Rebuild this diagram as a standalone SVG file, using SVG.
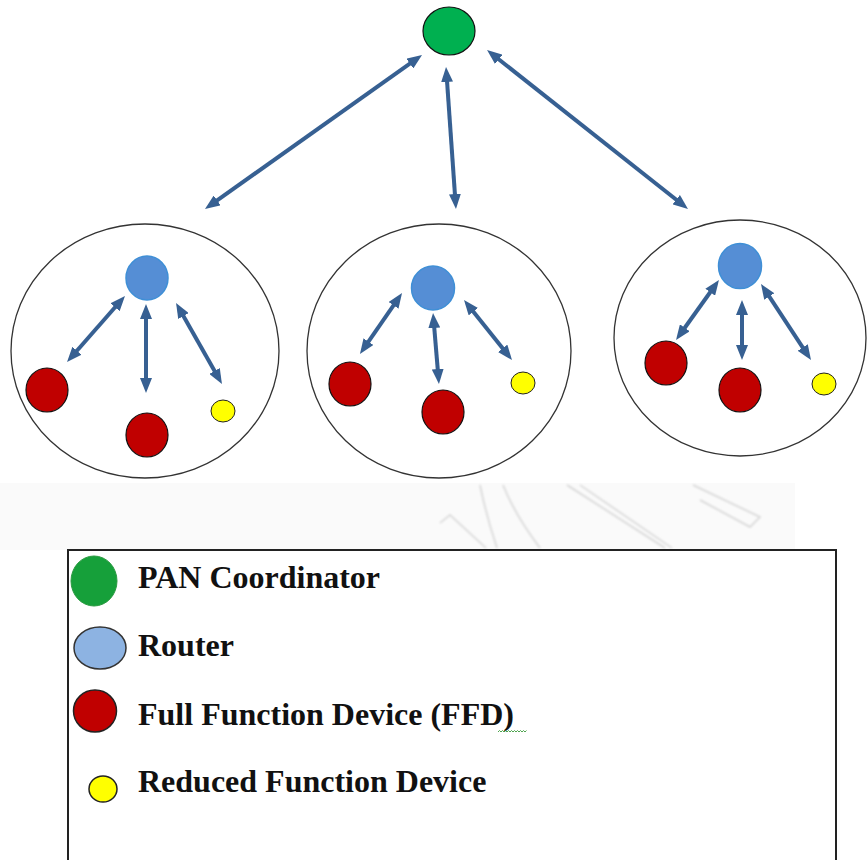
<svg xmlns="http://www.w3.org/2000/svg" width="867" height="860" viewBox="0 0 867 860">
  <defs>
    <marker id="head" viewBox="0 0 15 12" markerWidth="15" markerHeight="12" refX="7" refY="6" markerUnits="userSpaceOnUse" orient="auto-start-reverse">
      <path d="M0,0 L15,6 L0,12 z" fill="#376092"/>
    </marker>
    <filter id="soft" x="-5%" y="-20%" width="110%" height="140%">
      <feGaussianBlur stdDeviation="0.8"/>
    </filter>
  </defs>
  <style>
    .link { stroke: #376092; stroke-width: 4; fill: none; marker-start: url(#head); marker-end: url(#head); }
    .cluster { fill: none; stroke: #333; stroke-width: 1.3; }
    .router { fill: #558ed5; stroke: #3f8fd6; stroke-width: 1.5; }
    .ffd { fill: #c00000; stroke: #111; stroke-width: 1.2; }
    .rfd { fill: #ffff00; stroke: #222; stroke-width: 1; }
    .label { font-family: "Liberation Serif", "Times New Roman", serif; font-weight: bold; font-size: 32px; fill: #111; }
    .mark { fill: none; stroke: #d4d4d4; stroke-width: 1.5; }
  </style>

  <rect width="867" height="860" fill="#ffffff"/>

  <!-- faint background band with watermark strokes -->
  <g id="backdrop">
    <rect x="0" y="483" width="795" height="67" fill="#fafafa"/>
    <g filter="url(#soft)">
      <path class="mark" d="M480,485 Q486,515 497,548"/>
      <path class="mark" d="M503,485 Q515,515 540,548"/>
      <path class="mark" d="M440,523 L450,515 L486,548"/>
      <path class="mark" d="M567,485 L665,548"/>
      <path class="mark" d="M580,485 L672,548"/>
      <path class="mark" d="M693,485 L760,517 L750,527 L700,500"/>
    </g>
  </g>

  <!-- cluster boundaries -->
  <g id="cluster-left"><ellipse class="cluster" cx="145" cy="351" rx="134" ry="127"/></g>
  <g id="cluster-middle"><ellipse class="cluster" cx="439" cy="351" rx="132" ry="127"/></g>
  <g id="cluster-right"><ellipse class="cluster" cx="740" cy="338" rx="126" ry="118"/></g>

  <!-- connectors -->
  <g id="connectors">
    <line class="link" x1="415.5" y1="59.6" x2="211.5" y2="204.4"/>
    <line class="link" x1="446.6" y1="75" x2="455.4" y2="201"/>
    <line class="link" x1="493.3" y1="55" x2="681.7" y2="204"/>

    <line class="link" x1="119.7" y1="302" x2="72.3" y2="356"/>
    <line class="link" x1="146" y1="312" x2="146" y2="385"/>
    <line class="link" x1="180" y1="310" x2="218" y2="377"/>

    <line class="link" x1="397.5" y1="299.6" x2="364.5" y2="347.4"/>
    <line class="link" x1="433.7" y1="321" x2="438.3" y2="376"/>
    <line class="link" x1="469" y1="306.2" x2="507" y2="353.8"/>

    <line class="link" x1="714.3" y1="286.5" x2="680.7" y2="333.5"/>
    <line class="link" x1="742" y1="308" x2="742" y2="352"/>
    <line class="link" x1="765.4" y1="290.7" x2="806.6" y2="353.3"/>
  </g>

  <!-- PAN coordinator -->
  <g id="coordinator"><ellipse cx="449" cy="31" rx="26" ry="24" fill="#00b050" stroke="#111" stroke-width="1.2"/></g>

  <!-- left cluster devices -->
  <g id="router-left"><ellipse class="router" cx="147" cy="278" rx="21" ry="22"/></g>
  <g id="ffd-left-1"><ellipse class="ffd" cx="47" cy="390" rx="21" ry="22"/></g>
  <g id="ffd-left-2"><ellipse class="ffd" cx="147" cy="435" rx="21" ry="22"/></g>
  <g id="rfd-left"><ellipse class="rfd" cx="223" cy="411" rx="12" ry="11"/></g>

  <!-- middle cluster devices -->
  <g id="router-middle"><ellipse class="router" cx="433" cy="288" rx="21.5" ry="22"/></g>
  <g id="ffd-middle-1"><ellipse class="ffd" cx="350" cy="384" rx="21" ry="22"/></g>
  <g id="ffd-middle-2"><ellipse class="ffd" cx="443" cy="412" rx="21" ry="22"/></g>
  <g id="rfd-middle"><ellipse class="rfd" cx="523" cy="383" rx="12" ry="11"/></g>

  <!-- right cluster devices -->
  <g id="router-right"><ellipse class="router" cx="740" cy="266" rx="21.5" ry="22.5"/></g>
  <g id="ffd-right-1"><ellipse class="ffd" cx="666" cy="363" rx="21" ry="22"/></g>
  <g id="ffd-right-2"><ellipse class="ffd" cx="740" cy="390" rx="21" ry="22"/></g>
  <g id="rfd-right"><ellipse class="rfd" cx="824" cy="384" rx="12" ry="11"/></g>

  <!-- legend -->
  <g id="legend">
    <rect x="68" y="550" width="768" height="330" fill="#ffffff" stroke="#222" stroke-width="2"/>
    <ellipse cx="94" cy="581" rx="23" ry="25" fill="#16a03a" stroke="#2a9a40" stroke-width="1"/>
    <text class="label" x="138" y="588">PAN Coordinator</text>
    <ellipse cx="100" cy="648" rx="26" ry="21" fill="#8db3e2" stroke="#333" stroke-width="1.5"/>
    <text class="label" x="138" y="656">Router</text>
    <ellipse cx="95" cy="711" rx="21.5" ry="21" fill="#c00000" stroke="#222" stroke-width="1.5"/>
    <text class="label" x="138" y="725">Full Function Device (FFD)</text>
    <path d="M498,732 l1.5,-1.5 l1.5,1.5 l1.5,-1.5 l1.5,1.5 l1.5,-1.5 l1.5,1.5 l1.5,-1.5 l1.5,1.5 l1.5,-1.5 l1.5,1.5 l1.5,-1.5 l1.5,1.5 l1.5,-1.5 l1.5,1.5 l1.5,-1.5 l1.5,1.5 l1.5,-1.5 l1.5,1.5 l1.5,-1.5" fill="none" stroke="#3a9a3a" stroke-width="0.9"/>
    <ellipse cx="103" cy="789" rx="14" ry="13" fill="#ffff00" stroke="#222" stroke-width="1.5"/>
    <text class="label" x="138" y="792">Reduced Function Device</text>
  </g>
</svg>
